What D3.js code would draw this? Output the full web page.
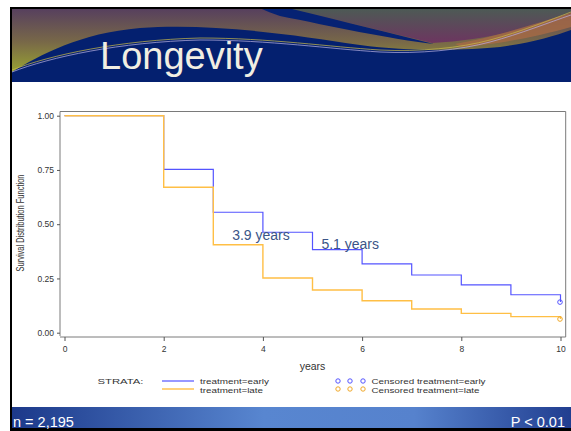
<!DOCTYPE html>
<html>
<head>
<meta charset="utf-8">
<script src="https://cdn.jsdelivr.net/npm/d3@7"></script>
<style>
  html, body { margin: 0; padding: 0; background: #fff; }
  svg { display: block; }
  text { font-family: "Liberation Sans", Arial, sans-serif; }
</style>
</head>
<body>
<svg id="chart" width="571" height="431"></svg>
<script>
// ---------- data ----------
const years = [0, 2, 3, 4, 5, 6, 7, 8, 9, 10];
const survivalEarly = [1.00, 0.753, 0.555, 0.463, 0.383, 0.317, 0.266, 0.220, 0.175, 0.141];
const survivalLate  = [1.00, 0.670, 0.405, 0.252, 0.197, 0.147, 0.109, 0.089, 0.074, 0.063];
const censorTimes = [10];
const censorEarly = [0.141];
const censorLate  = [0.063];
const yTicks = [0, 0.25, 0.5, 0.75, 1];
const xTicks = [0, 2, 4, 6, 8, 10];
const annotations = [
  { text: "3.9 years", t: 3.38, s: 0.427 },
  { text: "5.1 years", t: 5.18, s: 0.385 }
];
const title = "Longevity";
const footLeft = "n = 2,195";
const footRight = "P < 0.01";

const colEarly = "#5454ff";
const colLate = "#ffbf45";

const svg = d3.select("#chart");
const defs = svg.append("defs");

// ---------- slide background ----------
svg.append("rect").attr("width", 571).attr("height", 431).attr("fill", "#fff");
svg.append("rect").attr("x", 10).attr("y", 7).attr("width", 561).attr("height", 424).attr("fill", "#000");
svg.append("rect").attr("x", 12).attr("y", 82).attr("width", 559).attr("height", 325).attr("fill", "#fff");

// header
const sky = defs.append("linearGradient").attr("id", "sky").attr("x1", 0).attr("y1", 0).attr("x2", 0).attr("y2", 1);
sky.append("stop").attr("offset", "0%").attr("stop-color", "#57405e");
sky.append("stop").attr("offset", "45%").attr("stop-color", "#786848");
sky.append("stop").attr("offset", "85%").attr("stop-color", "#97a033");
const skyR = defs.append("linearGradient").attr("id", "skyR").attr("x1", 0).attr("y1", 0).attr("x2", 0).attr("y2", 1);
skyR.append("stop").attr("offset", "0%").attr("stop-color", "#4d5a55");
skyR.append("stop").attr("offset", "100%").attr("stop-color", "#6d3560");
const foot = defs.append("linearGradient").attr("id", "foot").attr("x1", 0).attr("y1", 0).attr("x2", 1).attr("y2", 0);
foot.append("stop").attr("offset", "0%").attr("stop-color", "#1c398a");
foot.append("stop").attr("offset", "45%").attr("stop-color", "#5886d0");
foot.append("stop").attr("offset", "72%").attr("stop-color", "#5682cd");
foot.append("stop").attr("offset", "100%").attr("stop-color", "#213e90");

const hdr = svg.append("g");
hdr.append("rect").attr("x", 12).attr("y", 9).attr("width", 559).attr("height", 73).attr("fill", "url(#sky)");
hdr.append("path")
  .attr("d", "M290,9 L571,9 L571,12 C540,26 490,40 432,43 C390,33 340,20 290,9 Z")
  .attr("fill", "url(#skyR)");
hdr.append("path")
  .attr("d", "M455,44 C500,36 540,22 571,13 L571,27 C540,36 500,44 462,47 Z")
  .attr("fill", "#a86a45").attr("opacity", 0.8);
hdr.append("path")
  .attr("d", "M262,9 L292,9 C345,22 395,34 434,44 C390,39 330,26 280,16 C272,13 266,11 262,9 Z")
  .attr("fill", "#062273");
hdr.append("path")
  .attr("d", "M12,72 C40,55 80,33 140,28 C210,23 290,34 360,45 C410,52 470,50 500,47 C530,43 555,36 571,30 L571,82 L12,82 Z")
  .attr("fill", "#04206f");
hdr.append("path")
  .attr("d", "M12,70 C50,55 120,40 200,38 C270,38 330,47 380,50 C420,52 460,48 490,40 C520,32 550,20 571,12")
  .attr("fill", "none").attr("stroke", "#c9b94a").attr("stroke-width", 0.8).attr("opacity", 0.9);
hdr.append("path")
  .attr("d", "M12,72 C50,57 120,42 200,40 C270,40 330,49 380,52 C420,54 460,50 490,42 C520,34 550,22 571,15")
  .attr("fill", "none").attr("stroke", "#b8b0e0").attr("stroke-width", 0.8).attr("opacity", 0.9);
hdr.append("text").attr("x", 100).attr("y", 68.5).attr("font-size", 38)
  .attr("fill", "#f1eee2").text(title);

// footer
svg.append("rect").attr("x", 12).attr("y", 407).attr("width", 559).attr("height", 21).attr("fill", "url(#foot)");
svg.append("text").attr("x", 13).attr("y", 426.5).attr("font-size", 14.5).attr("fill", "#fff").text(footLeft);
svg.append("text").attr("x", 565).attr("y", 426.5).attr("font-size", 14.5).attr("fill", "#fff")
  .attr("text-anchor", "end").text(footRight);

// ---------- chart ----------
const x = d3.scaleLinear().domain([0, 10]).range([64.5, 560.5]);
const y = d3.scaleLinear().domain([0, 1]).range([332.7, 115.7]);

const frame = { left: 60, right: 565.7, top: 111.5, axisY: 337 };

// frame
svg.append("path")
  .attr("d", `M${frame.left},${frame.axisY - 1} L${frame.left},${frame.top} L${frame.right},${frame.top} L${frame.right},${frame.axisY}`)
  .attr("fill", "none").attr("stroke", "#7a7a7a").attr("stroke-width", 1);
svg.append("line").attr("x1", frame.left).attr("x2", frame.right)
  .attr("y1", frame.axisY).attr("y2", frame.axisY).attr("stroke", "#7a7a7a");

// y axis
const yAxis = svg.append("g").attr("transform", `translate(${frame.left},0)`)
  .call(d3.axisLeft(y).tickValues(yTicks).tickFormat(d3.format(".2f")).tickSize(3).tickPadding(3));
yAxis.select(".domain").remove();
yAxis.selectAll("line").attr("stroke", "#555");
yAxis.selectAll("text").attr("font-size", 8.5).attr("fill", "#333")
  .attr("font-family", "Liberation Sans, Arial, sans-serif");

// x axis
const xAxis = svg.append("g").attr("transform", `translate(0,${frame.axisY})`)
  .call(d3.axisBottom(x).tickValues(xTicks).tickSize(4).tickPadding(5));
xAxis.select(".domain").remove();
xAxis.selectAll("line").attr("stroke", "#555");
xAxis.selectAll("text").attr("font-size", 8.5).attr("fill", "#333")
  .attr("font-family", "Liberation Sans, Arial, sans-serif");

// axis titles
svg.append("text").attr("x", x(5)).attr("y", 370).attr("text-anchor", "middle")
  .attr("font-size", 10.5).attr("fill", "#333").text("years");
svg.append("text").attr("transform", "translate(24,223) rotate(-90)")
  .attr("text-anchor", "middle").attr("font-size", 10)
  .attr("textLength", 97).attr("lengthAdjust", "spacingAndGlyphs")
  .attr("fill", "#333").text("Survival Distribution Function");

// step lines (late drawn on top, as in the reference)
const stepLine = d3.line().curve(d3.curveStepAfter).x(d => x(d[0])).y(d => y(d[1]));
const early = years.map((t, i) => [t, survivalEarly[i]]);
const late = years.map((t, i) => [t, survivalLate[i]]);

svg.append("path").attr("d", stepLine(early)).attr("fill", "none")
  .attr("stroke", colEarly).attr("stroke-width", 1.2);
svg.append("path").attr("d", stepLine(late)).attr("fill", "none")
  .attr("stroke", colLate).attr("stroke-width", 1.4);

// censor marks
svg.selectAll(".cE").data(censorTimes).enter().append("circle")
  .attr("cx", (d) => x(d) - 0.5).attr("cy", (d, i) => y(censorEarly[i])).attr("r", 2.3)
  .attr("fill", "none").attr("stroke", colEarly).attr("stroke-width", 1);
svg.selectAll(".cL").data(censorTimes).enter().append("circle")
  .attr("cx", (d) => x(d) - 0.5).attr("cy", (d, i) => y(censorLate[i])).attr("r", 2.3)
  .attr("fill", "none").attr("stroke", "#f0a828").attr("stroke-width", 1);

// annotations
svg.selectAll(".ann").data(annotations).enter().append("text")
  .attr("x", d => x(d.t)).attr("y", d => y(d.s))
  .attr("font-size", 14).attr("fill", "#3b5587").text(d => d.text);

// legend
const lg = svg.append("g").attr("font-size", 8).attr("fill", "#333");
const legText = (tx, ty, str, len) => lg.append("text").attr("x", tx).attr("y", ty)
  .attr("textLength", len).attr("lengthAdjust", "spacingAndGlyphs").text(str);
legText(97.5, 384, "STRATA:", 46);
lg.append("line").attr("x1", 162).attr("x2", 194).attr("y1", 381).attr("y2", 381).attr("stroke", colEarly).attr("stroke-width", 1.2);
lg.append("line").attr("x1", 162).attr("x2", 194).attr("y1", 389).attr("y2", 389).attr("stroke", colLate).attr("stroke-width", 1.4);
legText(200, 384, "treatment=early", 69);
legText(200, 393, "treatment=late", 63);
[338, 350, 363].forEach(cx => {
  lg.append("circle").attr("cx", cx).attr("cy", 381).attr("r", 2.2).attr("fill", "none").attr("stroke", colEarly);
  lg.append("circle").attr("cx", cx).attr("cy", 389).attr("r", 2.2).attr("fill", "none").attr("stroke", "#f0a828");
});
legText(371.5, 384, "Censored treatment=early", 114);
legText(371.5, 393, "Censored treatment=late", 108);
</script>
</body>
</html>
